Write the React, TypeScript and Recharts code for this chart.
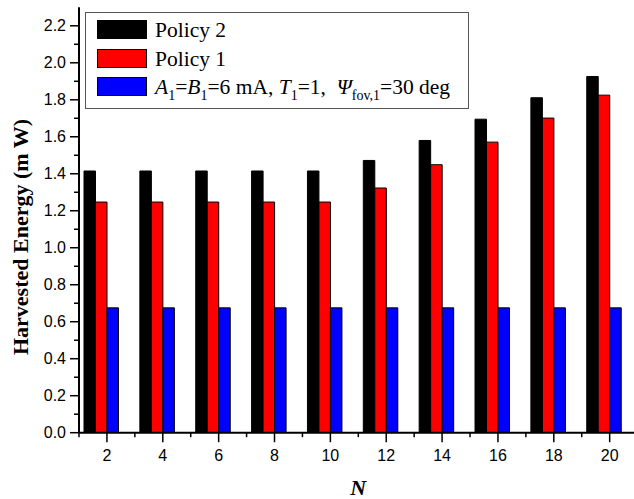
import React from 'react';
import { BarChart, Bar, XAxis, YAxis, Legend, Label } from 'recharts';

const nValues = [2, 4, 6, 8, 10, 12, 14, 16, 18, 20];
const policy2 = [1.415, 1.415, 1.415, 1.415, 1.415, 1.472, 1.58, 1.695, 1.811, 1.926];
const policy1 = [1.247, 1.247, 1.247, 1.247, 1.247, 1.323, 1.449, 1.571, 1.701, 1.825];
const singleLed = [0.675, 0.675, 0.675, 0.675, 0.675, 0.675, 0.675, 0.675, 0.675, 0.675];
const xTickValues = [1, 2, 3, 4, 5, 6, 7, 8, 9, 10, 11, 12, 13, 14, 15, 16, 17, 18, 19, 20, 21];
const yTickValues = [0, 0.1, 0.2, 0.3, 0.4, 0.5, 0.6, 0.7, 0.8, 0.9, 1.0, 1.1, 1.2, 1.3, 1.4, 1.5, 1.6, 1.7, 1.8, 1.9, 2.0, 2.1, 2.2];
const seriesKeys = ['policy2', 'policy1', 'single'];
const seriesNames = ['Policy 2', 'Policy 1', 'A1=B1=6 mA, T1=1, Ψfov,1=30 deg'];
const seriesColors = ['#000000', '#ff0000', '#0000ff'];

const data = nValues.map((n, i) => ({
  n,
  policy2: policy2[i],
  policy1: policy1[i],
  single: singleLed[i],
}));

const SANS = '"Liberation Sans", Arial, sans-serif';
const SERIF = '"Liberation Serif", "Times New Roman", serif';

const BottomTick = (props: any) => {
  const { x, y, payload } = props;
  const v = payload.value;
  const major = v % 2 === 0;
  return (
    <g>
      <line x1={x} x2={x} y1={y} y2={y + (major ? 9.5 : 4.5)} stroke="#000" strokeWidth={1.5} />
      {major && v <= 20 && (
        <text x={x} y={y + 28.3} textAnchor="middle" fontFamily={SANS} fontSize={16} fill="#000">
          {v}
        </text>
      )}
    </g>
  );
};

const TopTick = (props: any) => {
  const { x, y, payload } = props;
  const major = payload.value % 2 === 0;
  return <line x1={x} x2={x} y1={y} y2={y + (major ? 8 : 4.5)} stroke="#000" strokeWidth={1.5} />;
};

const isMajorY = (v: number) => Math.round(v * 10) % 2 === 0;

const LeftTick = (props: any) => {
  const { x, y, payload } = props;
  const v = payload.value;
  const major = isMajorY(v);
  return (
    <g>
      <line x1={x - (major ? 9 : 5)} x2={x} y1={y} y2={y} stroke="#000" strokeWidth={1.5} />
      {major && (
        <text x={x - 13} y={y + 5.7} textAnchor="end" fontFamily={SANS} fontSize={16} fill="#000">
          {v.toFixed(1)}
        </text>
      )}
    </g>
  );
};

const RightTick = (props: any) => {
  const { x, y, payload } = props;
  const major = isMajorY(payload.value);
  return <line x1={x - (major ? 9 : 5)} x2={x} y1={y} y2={y} stroke="#000" strokeWidth={1.5} />;
};

const YTitle = () => (
  <text
    x={27.5}
    y={237}
    transform="rotate(-90, 27.5, 237)"
    textAnchor="middle"
    fontFamily={SERIF}
    fontWeight="bold"
    fontSize={22}
    fill="#000"
  >
    Harvested Energy (m W)
  </text>
);

const sub = (s: string) => (
  <span style={{ fontSize: 14, position: 'relative', top: 6 }}>{s}</span>
);

const richLabel = (key: string, fallback: string) => {
  if (key !== 'single') return <span>{fallback}</span>;
  return (
    <span>
      <i>A</i>
      {sub('1')}=<i>B</i>
      {sub('1')}=6 mA, <i>T</i>
      {sub('1')}=1,&nbsp; <i>Ψ</i>
      {sub('fov,1')}=30 deg
    </span>
  );
};

const renderLegend = (props: any) => {
  const payload = (props.payload || [])
    .filter((p: any) => seriesKeys.includes(p.dataKey))
    .sort((a: any, b: any) => seriesKeys.indexOf(a.dataKey) - seriesKeys.indexOf(b.dataKey));
  return (
    <div
      style={{
        boxSizing: 'border-box',
        width: 384,
        height: 97,
        border: '1px solid #555',
        background: '#fff',
        position: 'relative',
        fontFamily: SERIF,
        fontSize: 21.5,
        color: '#000',
      }}
    >
      {payload.map((p: any, i: number) => {
        const idx = seriesKeys.indexOf(p.dataKey);
        return (
          <div key={p.dataKey} style={{ position: 'absolute', left: 0, top: i * 28.7, width: '100%', height: 28 }}>
            <div
              style={{
                position: 'absolute',
                left: 11,
                top: 7,
                width: 50,
                height: 19,
                boxSizing: 'border-box',
                background: seriesColors[idx],
                border: '1px solid #000',
              }}
            />
            <div style={{ position: 'absolute', left: 69, top: 7, lineHeight: '21px', whiteSpace: 'nowrap', fontFamily: SERIF }}>
              {richLabel(p.dataKey, seriesNames[idx])}
            </div>
          </div>
        );
      })}
    </div>
  );
};

export default function App() {
  return (
    <div style={{ position: 'absolute', left: 0, top: 0, width: 634, height: 499, overflow: 'hidden', background: '#fff' }}>
      <BarChart
        width={640}
        height={499}
        data={data}
        margin={{ top: 7.3, right: 2.4, left: 0, bottom: 0 }}
        barGap={0}
      >
        <XAxis xAxisId="cat" dataKey="n" type="category" hide />
        <XAxis
          xAxisId="bottom"
          dataKey="n"
          type="number"
          domain={[1, 21]}
          ticks={xTickValues}
          allowDataOverflow
          interval={0}
          height={66.3}
          tickSize={0}
          tickMargin={0}
          tickLine={false}
          tick={<BottomTick />}
          axisLine={{ stroke: '#000', strokeWidth: 2 }}
        >
          <Label
            value="N"
            position="insideBottom"
            offset={4}
            fontFamily={SERIF}
            fontWeight="bold"
            fontStyle="italic"
            fontSize={22}
            fill="#000"
          />
        </XAxis>
        <XAxis
          xAxisId="top"
          dataKey="n"
          orientation="top"
          type="number"
          domain={[1, 21]}
          ticks={xTickValues}
          allowDataOverflow
          interval={0}
          height={0}
          tickSize={0}
          tickMargin={0}
          tickLine={false}
          tick={<TopTick />}
          axisLine={{ stroke: '#000', strokeWidth: 2 }}
        />
        <YAxis
          type="number"
          domain={[0, 2.3]}
          ticks={yTickValues}
          allowDataOverflow
          interval={0}
          width={79}
          tickSize={0}
          tickMargin={0}
          tickLine={false}
          tick={<LeftTick />}
          axisLine={{ stroke: '#000', strokeWidth: 2 }}
        >
          <Label content={<YTitle />} />
        </YAxis>
        <YAxis
          yAxisId="right"
          orientation="right"
          type="number"
          domain={[0, 2.3]}
          ticks={yTickValues}
          allowDataOverflow
          interval={0}
          width={0}
          tickSize={0}
          tickMargin={0}
          tickLine={false}
          tick={<RightTick />}
          axisLine={{ stroke: '#000', strokeWidth: 2 }}
        />
        <Bar xAxisId="cat" dataKey="policy2" name={seriesNames[0]} fill={seriesColors[0]} stroke="#000" strokeWidth={1} barSize={11.5} isAnimationActive={false} />
        <Bar xAxisId="cat" dataKey="policy1" name={seriesNames[1]} fill={seriesColors[1]} stroke="#000" strokeWidth={1} barSize={11.5} isAnimationActive={false} />
        <Bar xAxisId="cat" dataKey="single" name={seriesNames[2]} fill={seriesColors[2]} stroke="#000" strokeWidth={1} barSize={11.5} isAnimationActive={false} />
        <Bar xAxisId="cat" dataKey="spacer" fill="none" stroke="none" barSize={11.5} isAnimationActive={false} legendType="none" />
        <Legend
          content={renderLegend}
          layout="vertical"
          align="center"
          verticalAlign="middle"
          wrapperStyle={{ left: 85, top: 12, width: 384, height: 97 }}
        />
      </BarChart>
    </div>
  );
}
